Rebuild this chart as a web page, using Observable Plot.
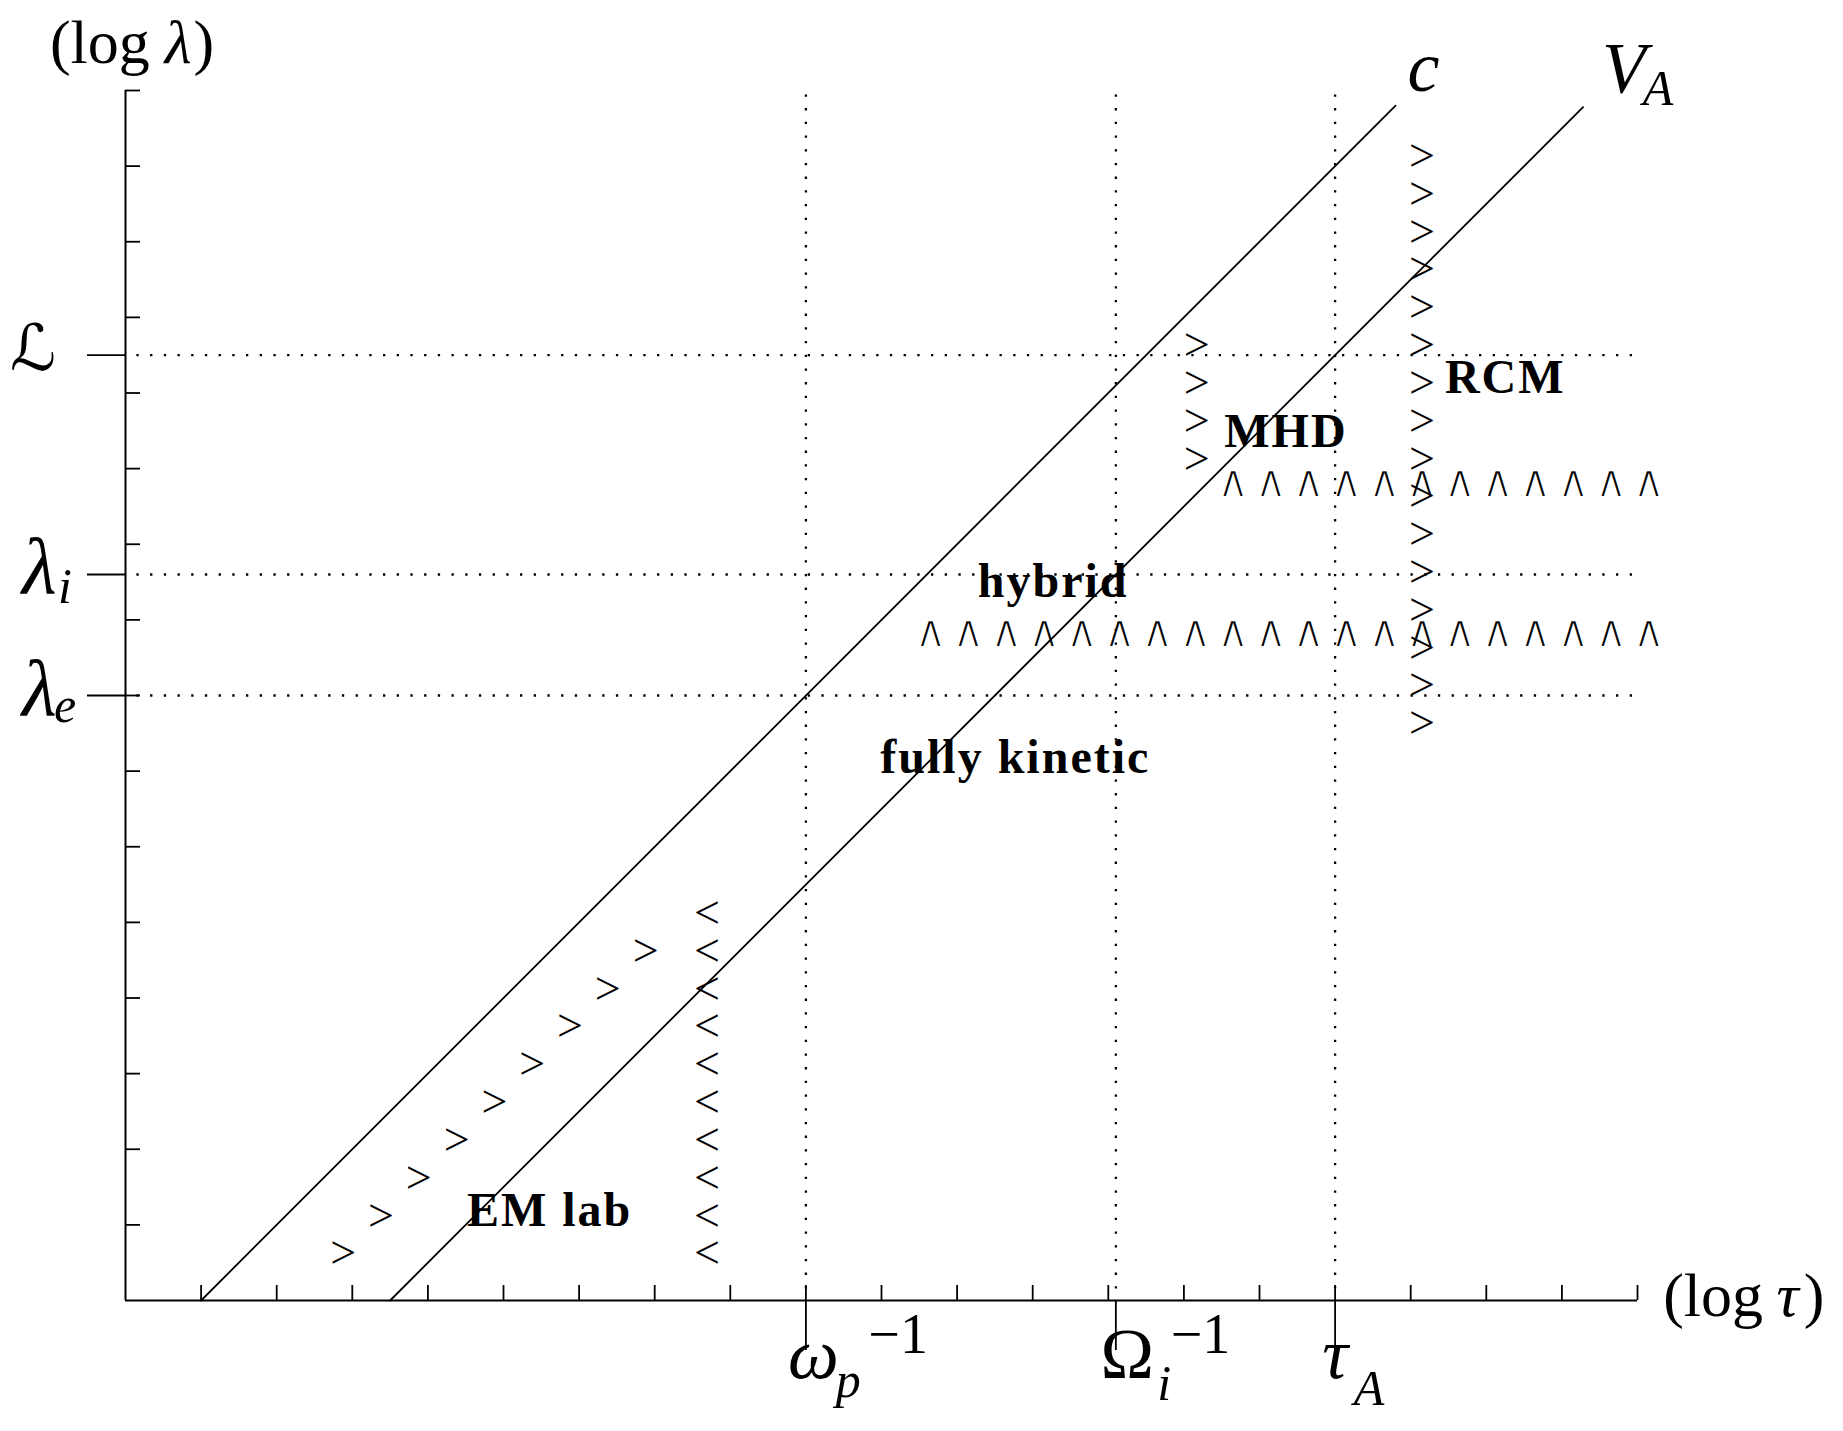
<!DOCTYPE html>
<html>
<head>
<meta charset="utf-8">
<script src="https://cdn.jsdelivr.net/npm/d3@7"></script>
<script src="https://cdn.jsdelivr.net/npm/@observablehq/plot@0.6"></script>
<style>
  html, body { margin: 0; padding: 0; background: #fff; }
  g[font-weight="bold"] text { letter-spacing: 2px; }
</style>
</head>
<body>
<div id="chart"></div>
<script>
// ---- axes (log τ in x, log λ in y), arbitrary units ----
const xMinorTicks = [1,2,3,4,5,6,7,8,9,10,11,12,13,14,15,16,17,18,19,20];
const yMinorTicks = [1,2,3,4,5,6,7,8,9,10,11,12,13,14,15,16];
const timeScales = [9, 13.1, 16];        // ω_p^-1, Ω_i^-1, τ_A
const lengthScales = [12.5, 9.6, 8];     // ℒ, λ_i, λ_e

// ---- characteristic lines λ = v τ ----
const lineC  = [{x: 1, y: 0}, {x: 16.8, y: 15.8}];
const lineVA = [{x: 3.5, y: 0}, {x: 19.28, y: 15.78}];

// ---- region boundary markers ----
const gtRightColX = 17.15;
const gtRightColY = [15.13, 14.63, 14.13, 13.63, 13.13, 12.63, 12.13, 11.63, 11.13, 10.63, 10.13, 9.63, 9.13, 8.63, 8.13, 7.63];
const gtMidColX = 14.17;
const gtMidColY = [12.63, 12.13, 11.63, 11.13];
const wedgeUpperY = 10.82;
const wedgeUpperX = [14.65, 15.15, 15.65, 16.15, 16.65, 17.15, 17.65, 18.15, 18.65, 19.15, 19.65, 20.15];
const wedgeLowerY = 8.83;
const wedgeLowerX = [10.65, 11.15, 11.65, 12.15, 12.65, 13.15, 13.65, 14.15, 14.65, 15.15, 15.65, 16.15, 16.65, 17.15, 17.65, 18.15, 18.65, 19.15, 19.65, 20.15];
const gtDiagX = [2.88, 3.38, 3.88, 4.38, 4.88, 5.38, 5.88, 6.38, 6.88];
const gtDiagY = [0.62, 1.12, 1.62, 2.12, 2.62, 3.12, 3.62, 4.12, 4.62];
const ltColX = 7.69;
const ltColY = [0.62, 1.12, 1.62, 2.12, 2.62, 3.12, 3.62, 4.12, 4.62, 5.12];

// ---- region labels ----
const regionLabels = [
  {x: 18.25, y: 12.0, text: "RCM"},
  {x: 15.35, y: 11.29, text: "MHD"},
  {x: 12.27, y: 9.30, text: "hybrid"},
  {x: 11.77, y: 6.98, text: "fully kinetic"},
  {x: 5.61, y: 0.99, text: "EM lab"}
];

// ---- math labels (tick labels, line labels) ----
const mathItalic = [
  {x: 9.1, y: -1.03, text: "ω"},
  {x: 16.0, y: -1.03, text: "τ"},
  {x: 17.17, y: 16.0, text: "c"},
  {x: 19.82, y: 15.98, text: "V"}
];
const mathLambda = [
  {x: -1.14, y: 9.36, text: "λ"},
  {x: -1.14, y: 7.74, text: "λ"}
];
const mathUpright = [{x: 13.25, y: -1.03, text: "Ω"}];
const mathScript = [{x: -1.22, y: 12.3, text: "ℒ"}];
const mathSub = [
  {x: 9.56, y: -1.28, text: "p"},
  {x: 13.74, y: -1.31, text: "i"},
  {x: 16.45, y: -1.38, text: "A"},
  {x: -0.8, y: 9.22, text: "i"},
  {x: -0.8, y: 7.65, text: "e"},
  {x: 20.27, y: 15.81, text: "A"}
];
const mathSup = [
  {x: 10.22, y: -0.69, text: "−1"},
  {x: 14.22, y: -0.69, text: "−1"}
];
// axis titles "(log λ)" and "(log τ)", upright and italic pieces
const axisTitleUpright = [
  {x: -1.0, y: 16.36, text: "(log"},
  {x: 0.9, y: 16.36, text: ")"},
  {x: 20.34, y: -0.2, text: "(log"},
  {x: 22.2, y: -0.2, text: ")"}
];
const axisTitleItalic = [
  {x: 0.52, y: 16.36, text: "λ"},
  {x: 21.84, y: -0.2, text: "τ"}
];

// build marker tables from the arrays
const markers = [
  ...gtRightColY.map(y => ({x: gtRightColX, y, g: ">"})),
  ...gtMidColY.map(y => ({x: gtMidColX, y, g: ">"})),
  ...gtDiagX.map((x, i) => ({x, y: gtDiagY[i], g: ">"})),
  ...ltColY.map(y => ({x: ltColX, y, g: "<"}))
];
const wedges = [
  ...wedgeUpperX.map(x => ({x, y: wedgeUpperY, g: "∧"})),
  ...wedgeLowerX.map(x => ({x, y: wedgeLowerY, g: "∧"}))
];

const W = 1843, H = 1431;
const mL = 125, mR = 206, mT = 90, mB = 131;
const frameW = W - mL - mR, frameH = H - mT - mB;
const serif = "'Liberation Serif', 'Times New Roman', serif";
const dots = {stroke: "black", strokeWidth: 2.3, strokeDasharray: "2.3,11.4", strokeDashoffset: 2.3};

const chart = Plot.plot({
  width: W, height: H,
  marginLeft: mL, marginRight: mR, marginTop: mT, marginBottom: mB,
  x: {domain: [0, 20], axis: null},
  y: {domain: [0, 16], axis: null},
  style: {background: "white", color: "black", overflow: "visible"},
  marks: [
    // wedge markers first (a white outline painted over the fill thins the glyph strokes)
    Plot.text(wedges, {x: "x", y: "y", text: "g", fontFamily: "'DejaVu Sans', sans-serif", fontSize: 46, lineAnchor: "middle", fill: "black", stroke: "white", strokeWidth: 1.9, paintOrder: "fill", strokeLinejoin: "miter"}),
    // dotted reference lines
    Plot.ruleY(lengthScales, {y: d => d, x1: 0, x2: 20.04, ...dots}),
    Plot.ruleX(timeScales, {x: d => d, y1: 0, y2: 16, ...dots}),
    // ticks
    Plot.tickX(xMinorTicks, {x: d => d, insetTop: frameH - 15, stroke: "black", strokeWidth: 1.8}),
    Plot.tickY(yMinorTicks, {y: d => d, insetRight: frameW - 15, stroke: "black", strokeWidth: 1.8}),
    Plot.tickX(timeScales, {x: d => d, insetTop: frameH, insetBottom: -50, stroke: "black", strokeWidth: 1.8}),
    Plot.tickY(lengthScales, {y: d => d, insetLeft: -38, insetRight: frameW, stroke: "black", strokeWidth: 1.8}),
    // axis lines
    Plot.ruleX([0], {stroke: "black", strokeWidth: 2}),
    Plot.ruleY([0], {stroke: "black", strokeWidth: 2}),
    // characteristic lines
    Plot.line(lineC, {x: "x", y: "y", stroke: "black", strokeWidth: 1.8}),
    Plot.line(lineVA, {x: "x", y: "y", stroke: "black", strokeWidth: 1.8}),
    // boundary markers
    Plot.text(markers, {x: "x", y: "y", text: "g", fontFamily: serif, fontSize: 46, lineAnchor: "middle", fill: "black"}),
    // region labels
    Plot.text(regionLabels, {x: "x", y: "y", text: "text", fontFamily: serif, fontWeight: "bold", fontSize: 48, lineAnchor: "bottom", fill: "black"}),
    // math labels
    Plot.text(mathItalic, {x: "x", y: "y", text: "text", fontFamily: serif, fontStyle: "italic", fontSize: 72, lineAnchor: "bottom", fill: "black"}),
    Plot.text(mathLambda, {x: "x", y: "y", text: "text", fontFamily: serif, fontStyle: "italic", fontSize: 80, lineAnchor: "bottom", fill: "black"}),
    Plot.text(mathUpright, {x: "x", y: "y", text: "text", fontFamily: serif, fontSize: 72, lineAnchor: "bottom", fill: "black"}),
    Plot.text(mathScript, {x: "x", y: "y", text: "text", fontFamily: "'DejaVu Serif', 'DejaVu Sans', serif", fontSize: 64, lineAnchor: "bottom", fill: "black"}),
    Plot.text(mathSub, {x: "x", y: "y", text: "text", fontFamily: serif, fontStyle: "italic", fontSize: 50, lineAnchor: "bottom", fill: "black"}),
    Plot.text(mathSup, {x: "x", y: "y", text: "text", fontFamily: serif, fontSize: 56, lineAnchor: "bottom", fill: "black"}),
    Plot.text(axisTitleUpright, {x: "x", y: "y", text: "text", fontFamily: serif, fontSize: 62, textAnchor: "start", lineAnchor: "bottom", fill: "black"}),
    Plot.text(axisTitleItalic, {x: "x", y: "y", text: "text", fontFamily: serif, fontStyle: "italic", fontSize: 62, textAnchor: "start", lineAnchor: "bottom", fill: "black"})
  ]
});
document.getElementById("chart").appendChild(chart);
</script>
</body>
</html>
